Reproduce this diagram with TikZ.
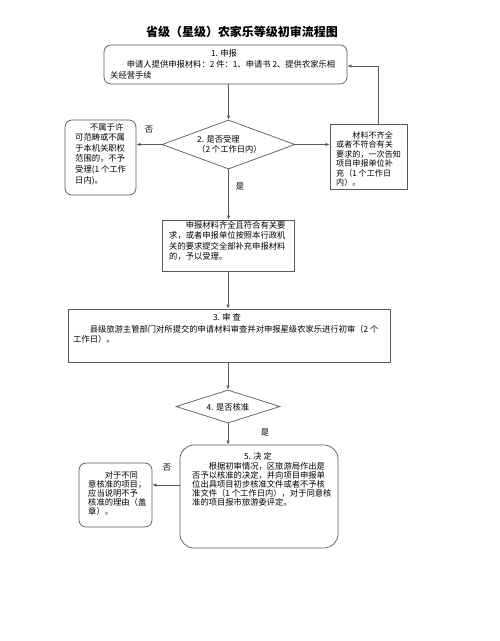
\documentclass[tikz,border=0pt]{standalone}
\usepackage{fontspec}
\setmainfont{Noto Sans CJK SC}
\usetikzlibrary{arrows.meta,shapes.geometric}
\begin{document}
\begin{tikzpicture}[x=1pt,y=-1pt,
  line/.style={draw=black!65, line width=0.7pt},
  arr/.style={line, -{Latex[length=4pt,width=3.5pt]}},
  box/.style={line, inner sep=0pt},
  rbox/.style={box, rounded corners=7pt},
  dia/.style={line, diamond, inner sep=0pt},
  txt/.style={inner sep=0pt, align=left, anchor=north west, font=\fontsize{8.3}{#1}\selectfont},
  ctxt/.style={inner sep=0pt, align=center, font=\fontsize{8.3}{10}\selectfont},
  lab/.style={inner sep=0pt, font=\fontsize{8.3}{10}\selectfont}]
\useasboundingbox[fill=white] (0,0) rectangle (500,641);

\node[inner sep=0pt, font=\fontsize{12}{14}\selectfont\bfseries] (title) at (242,32) {省级（星级）农家乐等级初审流程图};

% shapes
\node[rbox, minimum width=243pt, minimum height=39pt] (b1) at (225.5,64.5) {};
\node[dia, minimum width=133pt, minimum height=49pt] (d2) at (228.5,144.5) {};
\node[rbox, minimum width=71pt, minimum height=75pt] (bA) at (100.5,157.5) {};
\node[box, minimum width=77pt, minimum height=65pt] (bB) at (368.5,156.5) {};
\node[box, minimum width=132pt, minimum height=51pt] (b3) at (228,245.5) {};
\node[box, minimum width=322pt, minimum height=53pt] (b4) at (229,335.5) {};
\node[dia, minimum width=104pt, minimum height=33pt] (d4) at (228,406.5) {};
\node[box, rounded corners=14pt, minimum width=158pt, minimum height=103pt] (b5) at (259,496.5) {};
\node[rbox, minimum width=73pt, minimum height=64pt] (bC) at (115.5,495) {};

% texts
\node[ctxt] (t1a) at (224,53) {1. 申报};
\node[txt=11] (t1b) at (110,60) {\hspace*{2em}申请人提供申报材料：2 件：1、申请书 2、提供农家乐相\\关经营手续};
\node[txt=10.6] (tA) at (75,123) {\hspace*{1.8em}不属于许\\可范畴或不属\\于本机关职权\\范围的，不予\\受理(1 个工作\\日内)。};
\node[txt=10] (td2) at (197,135) {2. 是否受理\\（2 个工作日内）};
\node[txt=9.5, font=\fontsize{8.1}{9.5}\selectfont] (tB) at (336,131) {\hspace*{2em}材料不齐全\\或者不符合有关\\要求的，一次告知\\项目申报单位补\\充（1 个工作日\\内）。};
\node[txt=10.5] (t3) at (169,221) {\hspace*{2em}申报材料齐全且符合有关要\\求，或者申报单位按照本行政机\\关的要求提交全部补充申报材料\\的，予以受理。};
\node[ctxt] (t4a) at (227,317) {3. 审\ 查};
\node[txt=10.5] (t4b) at (73,325) {\hspace*{2em}县级旅游主管部门对所提交的申请材料审查并对申报星级农家乐进行初审（2 个\\工作日）。};
\node[ctxt] (td4) at (228,407) {4. 是否核准};
\node[ctxt] (t5a) at (258,456) {5. 决\ 定};
\node[txt=9.1] (t5b) at (192,462) {\hspace*{2em}根据初审情况，区旅游局作出是\\否予以核准的决定，并向项目申报单\\位出具项目初步核准文件或者不予核\\准文件（1 个工作日内），对于同意核\\准的项目报市旅游委评定。};
\node[txt=9.2] (tC) at (88,471) {\hspace*{2em}对于不同\\意核准的项目，\\应当说明不予\\核准的理由（盖\\章）。};

% labels
\node[lab] (l1) at (149,130) {否};
\node[lab] (l2) at (240,187) {是};
\node[lab] (l3) at (265,433) {是};
\node[lab] (l4) at (167,468) {否};

% connectors
\draw[arr] (d2.north |- b1.south) -- (d2.north);
\draw[arr] (d2.west) -- (d2.west -| bA.east);
\draw[arr] (d2.east) -- (d2.east -| bB.west);
\draw[arr] ([xshift=9.5pt]bB.north) |- ([yshift=-1.5pt]b1.east);
\draw[arr] (d2.south) -- (d2.south |- b3.north);
\draw[arr] (b3.south) -- (b3.south |- b4.north);
\draw[arr] (d4.north |- b4.south) -- (d4.north);
\draw[arr] (d4.south) -- (d4.south |- b5.north);
\draw[arr] ([yshift=11.5pt]b5.west) -- ([yshift=11.5pt]b5.west -| bC.east);
\end{tikzpicture}
\end{document}
